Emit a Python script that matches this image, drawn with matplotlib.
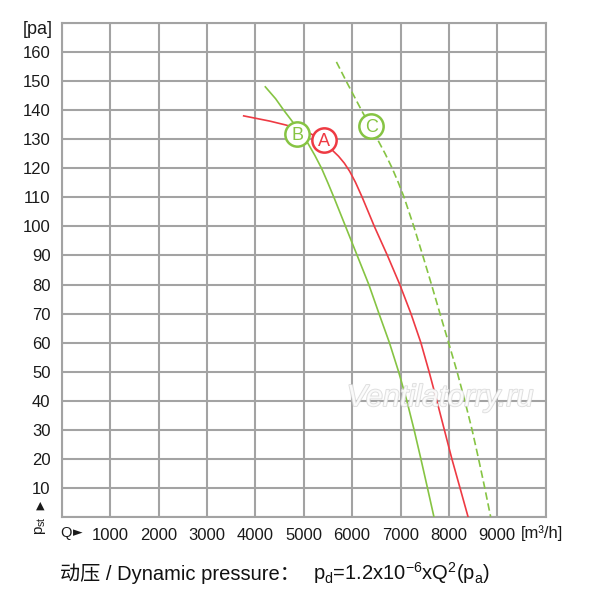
import matplotlib
matplotlib.use("Agg")
import matplotlib.pyplot as plt
import matplotlib.patheffects as pe

# ---- data ----
A_q = [3760, 4000, 4300, 4620, 5000, 5250, 5400, 5590, 5720, 5840, 5950, 6070, 6210, 6460, 6730, 6985, 7215, 7420, 7590, 7750, 7905, 8060, 8228, 8395]
A_p = [138.1, 137.3, 136.3, 135.0, 133.2, 131.0, 129.0, 126.3, 124.2, 121.8, 119.0, 115.2, 110.0, 100.0, 90.0, 80.0, 70.0, 60.0, 50.0, 40.0, 30.0, 20.0, 10.0, 0.0]

B_q = [4207, 4420, 4590, 4750, 4905, 5075, 5230, 5370, 5500, 5625, 5865, 6105, 6345, 6555, 6770, 6960, 7130, 7280, 7420, 7556, 7690]
B_p = [148.1, 144.0, 140.0, 136.5, 133.0, 129.0, 124.5, 120.0, 115.0, 110.0, 100.0, 90.0, 80.0, 70.0, 60.0, 50.0, 40.0, 30.0, 20.0, 10.0, 0.0]

C_q = [5676, 5880, 6195, 6360, 6525, 6685, 6830, 6958, 7075, 7275, 7460, 7640, 7815, 7993, 8168, 8328, 8478, 8612, 8740, 8862]
C_p = [156.7, 150.0, 140.0, 135.0, 130.0, 125.0, 120.0, 115.0, 110.0, 100.0, 90.0, 80.0, 70.0, 60.0, 50.0, 40.0, 30.0, 20.0, 10.0, 0.0]

curve_labels = ["A", "B", "C"]
label_q = [5414, 4862, 6393]
label_p = [129.8, 131.9, 134.7]

x_ticks = [1000, 2000, 3000, 4000, 5000, 6000, 7000, 8000, 9000]
y_ticks = [10, 20, 30, 40, 50, 60, 70, 80, 90, 100, 110, 120, 130, 140, 150, 160]

RED = "#ee3a43"
GREEN = "#86c443"
GRID = "#a3a3a3"

plt.rcParams["font.family"] = ["Liberation Sans", "DejaVu Sans"]

W = H = 600
fig = plt.figure(figsize=(6, 6), dpi=100)
ax = fig.add_axes([61.7 / W, 1 - 516.7 / H, 484 / W, 493.4 / H])
ax.set_xlim(0, 10000)
ax.set_ylim(0, 170)

ax.set_xticks(range(0, 10001, 1000))
ax.set_xticklabels([""] + [str(v) for v in x_ticks] + [""])
ax.set_yticks(range(0, 171, 10))
ax.set_yticklabels([""] + [str(v) for v in y_ticks] + [""])
ax.tick_params(length=0, pad=8, labelsize=12, colors="#1a1a1a")
ax.grid(True, color=GRID, linewidth=1.5)
for s in ax.spines.values():
    s.set_color(GRID)
    s.set_linewidth(1.5)
ax.set_axisbelow(True)

ax.plot(A_q, A_p, color=RED, lw=1.2, zorder=3)
ax.plot(B_q, B_p, color=GREEN, lw=1.2, zorder=3)
ax.plot(C_q, C_p, color=GREEN, lw=1.2, dashes=(4.5, 2.2), zorder=3)

for lab, q, p in zip(curve_labels, label_q, label_p):
    col = RED if lab == "A" else GREEN
    ax.plot([q], [p], marker="o", ms=17.5, mfc="white", mec=col, mew=1.8, zorder=5)
    ax.text(q, p, lab, color=col, fontsize=13, ha="center", va="center_baseline",
            zorder=6, fontfamily="Liberation Sans")

def ftext(x, y, s, **kw):
    return fig.text(x / W, 1 - y / H, s, **kw)

ftext(38, 30, "[pa]", fontsize=13, ha="center", va="center", color="#1a1a1a")
ftext(60, 533, "Q", fontsize=10.5, ha="left", va="center", color="#1a1a1a")
ftext(73, 533, "\u25ba", fontsize=9, ha="left", va="center", color="#1a1a1a",
      family=["DejaVu Sans"])
ftext(542, 533, "[m\u00b3/h]", fontsize=12, ha="center", va="center", color="#1a1a1a")
ftext(40, 506, "\u25b2", fontsize=8, ha="center", va="center", color="#1a1a1a",
      family=["DejaVu Sans"])
ftext(41, 526, r"p$_\mathregular{st}$", fontsize=11, ha="center", va="center",
      rotation=90, color="#1a1a1a")

ftext(60, 580, "动压 / Dynamic pressure：", fontsize=14.5, ha="left", va="baseline",
      color="#111111", family=["Liberation Sans", "Noto Sans CJK SC"])
ftext(313, 580, r"p$_\mathregular{d}$=1.2x10$^\mathregular{-6}$xQ$^\mathregular{2}$(p$_\mathregular{a}$)",
      fontsize=14.5, ha="left", va="baseline", color="#111111")

wm = ftext(440, 398, "Ventilatorry.ru", fontsize=22, style="italic", ha="center",
           va="center", color="white", alpha=0.8, zorder=10)
wm.set_path_effects([pe.withStroke(linewidth=1.3, foreground="#d6d6d6")])

fig.savefig("out.png", dpi=100)
